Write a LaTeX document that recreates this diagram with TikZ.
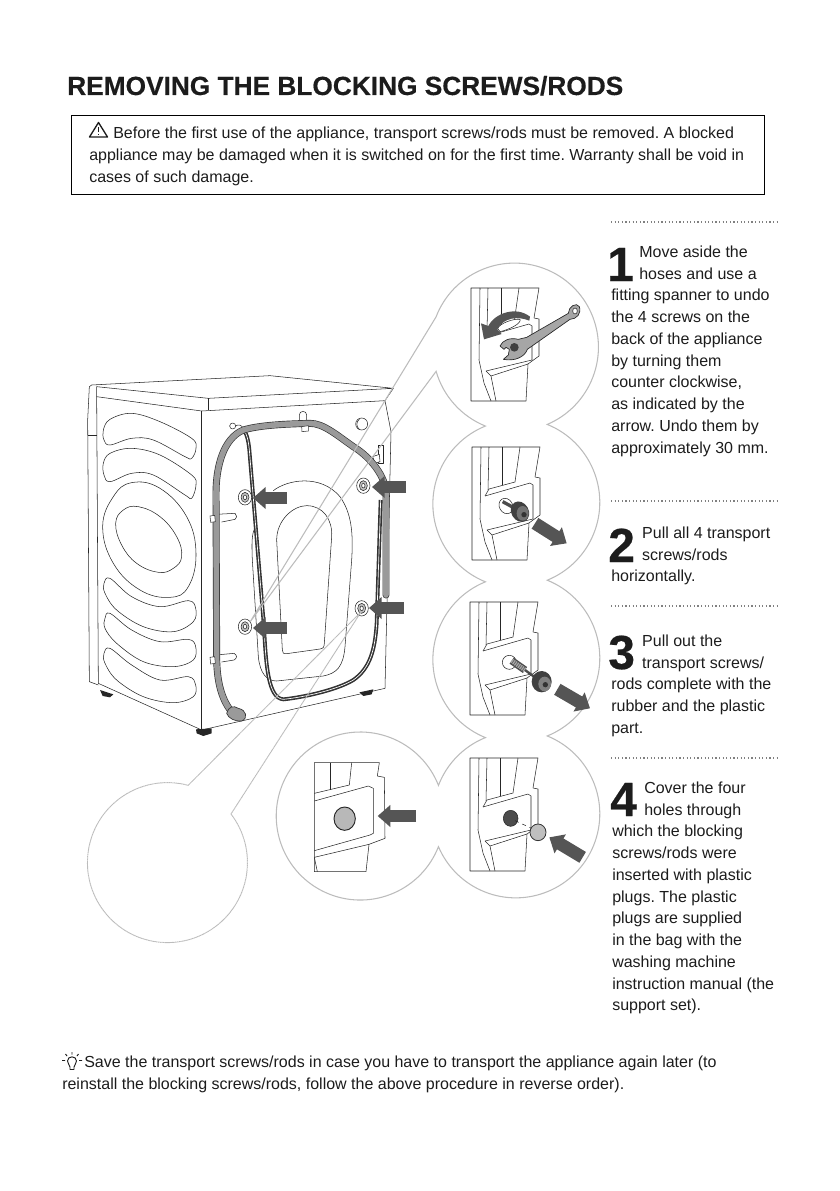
\documentclass[tikz,border=0pt]{standalone}
\usepackage{fontspec}
\setmainfont[BoldFeatures={FakeBold=0.4}]{Liberation Sans}
\usetikzlibrary{arrows.meta}
\definecolor{lensgray}{HTML}{BCBCBC}
\definecolor{arrowgray}{HTML}{555555}
\definecolor{hosegray}{HTML}{9A9A9A}
\definecolor{inkdark}{HTML}{1C1C1C}
\tikzset{
  txt/.style={anchor=north west,inner sep=0pt,align=left,text=inkdark,font=\fontsize{12}{16.3}\selectfont\frenchspacing},
  bignum/.style={anchor=base west,inner sep=0pt,text=inkdark,font=\fontsize{36}{36}\selectfont\bfseries},
  rule/.style={line width=0.9pt,dash pattern=on 0.9pt off 1.8pt,gray},
  ink/.style={draw=black!85,line width=0.4pt,line join=round},
  blockarrow/.style={arrowgray,line width=9.5pt,-{Triangle[length=9.5pt,width=16pt]}},
  lens/.style={draw=lensgray,line width=0.8pt,line join=miter},
  hose/.style={line width=5.2pt,draw=black!80,line cap=round,postaction={draw=hosegray,line width=4.2pt}}
}
\newcommand{\ind}[1]{\hspace*{#1pt}}
\begin{document}
\begin{tikzpicture}[x=0.75pt,y=-0.75pt]
  \useasboundingbox (0,0) rectangle (839,1191);

  % Heading and warning box
  \node[anchor=base west,inner sep=0pt,text=inkdark,font=\fontsize{19.7}{22}\selectfont\bfseries] (title) at (67,95) {REMOVING THE BLOCKING SCREWS/RODS};
  \draw[black,line width=0.7pt] (71,115) rectangle (764,194);
  \draw[line width=1pt,line join=round,inkdark] (98.5,122.5) -- (107.5,137) -- (89.5,137) -- cycle;
  \draw[line width=1.1pt,inkdark] (98.5,127.5) -- (98.5,132.5) (98.5,133.8) -- (98.5,135.3);
  \node[txt,font=\fontsize{12}{16.5}\selectfont\frenchspacing] (warning) at (89,123) {\strut\ind{18}Before the first use of the appliance, transport screws/rods must be removed. A blocked\\appliance may be damaged when it is switched on for the first time. Warranty shall be void in\\cases of such damage.};

  % Dotted rules over the steps
  \foreach \ry in {222,501,606,758}
    \draw[rule] (611,\ry) -- (778,\ry);

  % Step texts
  \node[bignum] (numone) at (607,281) {1};
  \node[txt] (stepone) at (611,242) {\strut\ind{21}Move aside the\\\ind{21}hoses and use a\\fitting spanner to undo\\the 4 screws on the\\back of the appliance\\by turning them\\counter clockwise,\\as indicated by the\\arrow. Undo them by\\approximately 30 mm.};
  \node[bignum] (numtwo) at (608,562) {2};
  \node[txt] (steptwo) at (611,523) {\strut\ind{23.2}Pull all 4 transport\\\ind{23.2}screws/rods\\horizontally.};
  \node[bignum] (numthree) at (608,669) {3};
  \node[txt] (stepthree) at (611,631) {\strut\ind{23.2}Pull out the\\\ind{23.2}transport screws/\\rods complete with the\\rubber and the plastic\\part.};
  \node[bignum] (numfour) at (610,816) {4};
  \node[txt] (stepfour) at (612,778) {\strut\ind{24}Cover the four\\\ind{24}holes through\\which the blocking\\screws/rods were\\inserted with plastic\\plugs. The plastic\\plugs are supplied\\in the bag with the\\washing machine\\instruction manual (the\\support set).};

  % Footer with the bulb
  \draw[inkdark,line width=0.7pt,line join=round] (70,1069.5) -- (70,1067) .. controls (70,1065) and (67.5,1064) .. (67.5,1061) .. controls (67.5,1055.5) and (76.5,1055.5) .. (76.5,1061) .. controls (76.5,1064) and (74,1065) .. (74,1067) -- (74,1069.5) -- cycle;
  \draw[inkdark,line width=0.7pt] (72,1052) -- (72,1054.5) (65.5,1054) -- (67,1056) (78.5,1054) -- (77,1056) (62,1060.5) -- (65,1060.5) (82,1060.5) -- (79,1060.5);
  \node[txt] (savenote) at (62,1052) {\strut\ind{16.5}Save the transport screws/rods in case you have to transport the appliance again later (to\\reinstall the blocking screws/rods, follow the above procedure in reverse order).};

  % Washing machine, traced in a finer grid
  \begin{scope}[shift={(60,360)},x=0.25pt,y=-0.25pt]
    % feet
    \fill[black!85] (120,990) -- (160,1003) -- (150,1012) -- (128,1008) -- cycle;
    \fill[black!85] (408,1108) -- (455,1105) -- (455,1120) -- (430,1128) -- (410,1120) -- cycle;
    \fill[black!85] (898,997) -- (940,988) -- (935,1003) -- (910,1008) -- cycle;
    % body
    \draw[ink] (88,80) -- (95,75) -- (630,47) -- (1000,85) -- (975,122) -- (425,153) -- (110,110) -- (110,80) -- (445,115) -- (1000,85);
    \draw[ink] (445,115) -- (445,150);
    \draw[ink] (88,80) -- (83,180) -- (88,965) -- (115,975);
    \draw[ink] (84,225) -- (110,225);
    \draw[ink] (110,110) -- (115,970) -- (425,1110) -- (975,985) -- (993,215) -- (975,122);
    \draw[ink] (425,153) -- (425,1110);
    % side panel
    \draw[ink] plot[smooth cycle,tension=0.6] coordinates {(130,210) (150,178) (215,160) (300,185) (395,235) (408,265) (395,295) (375,290) (280,240) (215,235) (150,255) (132,240)};
    \draw[ink] plot[smooth cycle,tension=0.6] coordinates {(130,310) (150,280) (215,265) (300,285) (395,345) (408,375) (395,415) (375,405) (280,345) (215,340) (150,365) (132,345)};
    \draw[ink] plot[smooth cycle,tension=0.7] coordinates {(128,500) (160,410) (215,368) (300,385) (380,470) (408,580) (385,680) (330,712) (240,690) (160,610)};
    \draw[ink] plot[smooth cycle,tension=0.7] coordinates {(167,490) (190,450) (235,440) (300,470) (350,530) (365,590) (340,625) (295,637) (230,610) (185,555)};
    \draw[ink] plot[smooth cycle,tension=0.6] coordinates {(132,670) (150,655) (215,710) (300,740) (385,722) (407,745) (400,785) (340,815) (250,800) (170,750) (135,700)};
    \draw[ink] plot[smooth cycle,tension=0.6] coordinates {(135,775) (150,760) (215,810) (300,845) (385,838) (407,860) (400,900) (340,920) (250,905) (170,850) (135,805)};
    \draw[ink] plot[smooth cycle,tension=0.6] coordinates {(132,880) (150,865) (215,915) (300,960) (385,950) (407,975) (400,1010) (340,1028) (250,1010) (170,960) (135,910)};
    % drum and door on the back
    \draw[ink] (640,392) .. controls (680,360) and (780,340) .. (840,410) .. controls (875,460) and (880,520) .. (875,600) -- (855,860) .. controls (850,920) and (830,940) .. (790,948) -- (650,963) .. controls (620,963) and (600,940) .. (595,890) -- (577,600) .. controls (575,550) and (575,520) .. (585,505);
    \draw[ink] (650,540) .. controls (650,480) and (700,437) .. (740,437) .. controls (790,437) and (818,480) .. (815,530) -- (793,850) .. controls (792,862) and (790,865) .. (780,867) -- (680,881) .. controls (670,882) and (667,878) .. (667,870) -- cycle;
    % cable
    \draw[black!80,line width=1.2pt,double=white,double distance=0.5pt] (545,205) .. controls (560,215) and (565,240) .. (568,270) -- (612,800) .. controls (618,920) and (625,1015) .. (670,1018) .. controls (730,1012) and (830,990) .. (880,960) .. controls (930,925) and (945,870) .. (950,790) -- (962,420);
    \draw[ink] (518,198) circle[radius=9];
    \draw[ink] (527,198) .. controls (535,192) and (545,195) .. (550,205);
    % top fittings
    \draw[ink] (718,180) -- (718,165) arc[start angle=180,end angle=360,radius=11] -- (740,180);
    \draw[ink] (905,192) circle[radius=18];
    \draw[ink] (898,178) .. controls (888,185) and (888,200) .. (898,208);
    \draw[ink] (955,310) -- (955,255) -- (970,255) -- (970,310) -- cycle;
    \draw[ink,fill=white] (938,290) -- (958,283) -- (960,305) -- (945,310) -- cycle;
    % side clips
    \draw[ink] (468,463) -- (525,460) .. controls (532,465) and (532,475) .. (525,478) -- (485,486) (468,885) -- (522,880) .. controls (532,885) and (532,895) .. (522,900) -- (485,906);
    % hose
    \draw[hose] (978,705) -- (978,400) .. controls (978,350) and (930,290) .. (880,260) .. controls (830,225) and (790,190) .. (750,190) .. controls (680,192) and (600,195) .. (550,210) .. controls (490,235) and (468,320) .. (468,400) -- (470,900) .. controls (472,980) and (490,1030) .. (525,1068);
    \draw[draw=black!80,fill=hosegray,line width=0.5pt] (500,1060) .. controls (505,1040) and (520,1035) .. (535,1045) .. controls (560,1050) and (565,1075) .. (545,1083) .. controls (525,1085) and (505,1075) .. (500,1060) -- cycle;
    \fill[white,draw=black!80,line width=0.4pt] (450,468) -- (464,466) -- (466,485) -- (452,487) -- cycle (450,892) -- (464,890) -- (466,910) -- (452,912) -- cycle (725,200) -- (745,197) -- (745,213) -- (726,215) -- cycle;
    % screws
    \foreach \sx/\sy in {555/412,555/800,910/377,905/745} {
      \draw[ink,fill=white] (\sx,\sy) ellipse (20 and 23);
      \draw[ink,fill=black!25] (\sx,\sy) ellipse (12 and 15);
      \draw[ink,fill=white] (\sx,\sy) ellipse (5 and 7);
    }
  \end{scope}

  % Lines out of the washing machine and the round lenses
  \draw[lens] (250,622) -- (436,317)
    arc[start angle=201,end angle=427,radius=84]
    arc[start angle=-68,end angle=68,radius=84]
    arc[start angle=-68,end angle=68,radius=84]
    arc[start angle=-68,end angle=157,radius=84]
    arc[start angle=21.4,end angle=338.6,radius=84]
    arc[start angle=201,end angle=248,radius=84]
    arc[start angle=112,end angle=248,radius=84]
    arc[start angle=112,end angle=248,radius=84]
    arc[start angle=112,end angle=164,radius=84] -- cycle;
  \draw[lens,line width=0.7pt,dash pattern=on 1pt off 0.3pt] (361,612) -- (231,814)
    arc[start angle=-37.4,end angle=285,radius=80] -- cycle;

  % Inset panels, same drawing four times
  \foreach \px/\py in {471/288,472/447,470/602,470/758} {
    \begin{scope}[shift={(\px,\py)}]
      \draw[ink] (68,0) -- (0,0) -- (0,113) -- (55,113) -- (57,76) -- (68,68) -- (68,31) -- (63,30) -- cycle;
      \draw[ink] (9,0) -- (8,72) -- (13,95) -- (20,113);
      \draw[ink] (17,0) -- (16,43);
      \draw[ink] (30,0) -- (30,38);
      \draw[ink] (48,0) -- (43,35);
      \draw[ink] (13,49) -- (17,42) -- (43,35);
      \draw[ink] (13,49) -- (58,36) -- (61,38) -- (61,72) -- (15,83) -- (20,88) -- (57,76);
      \draw[ink] (20,88) -- (25,113);
    \end{scope}
  }

  % Spanner inset
  \begin{scope}[shift={(420,260)},x=0.25pt,y=-0.25pt]
    \draw[ink,fill=white] (233,205) .. controls (240,190) and (280,175) .. (300,178) .. controls (305,190) and (270,208) .. (240,215) -- cycle;
    \fill[arrowgray] (328,182) .. controls (295,168) and (250,172) .. (232,208) -- (245,222) -- (192,238) -- (183,190) -- (205,198) .. controls (225,158) and (290,138) .. (330,170) -- cycle;
    \draw[draw=black!85,fill=black!35,line width=0.5pt,line join=round] (240,258) .. controls (248,240) and (270,232) .. (295,238) -- (320,232) -- (445,160) .. controls (445,140) and (470,125) .. (478,140) .. controls (485,160) and (470,178) .. (450,178) -- (322,268) .. controls (315,290) and (285,305) .. (250,298) -- (265,285) -- (268,268) -- (258,262) -- (252,268) -- cycle;
    \fill[black!75] (283,262) circle[radius=13];
    \draw[ink,fill=white] (465,153) ellipse (7 and 9);
    % Pulled screw, second lens
    \draw[ink,fill=white,rotate around={30:(258,738)}] (258,738) ellipse (20 and 24);
    \draw[black!70,line width=2.5pt] (248,725) -- (285,745);
    \fill[black!75,rotate around={30:(300,755)}] (300,755) ellipse (26 and 32);
    \fill[black!55] (308,760) ellipse (18 and 22);
    \fill[black!80] (312,764) circle[radius=8];
    \draw[blockarrow] (345,790) -- (440,850);
  \end{scope}

  % Third and fourth lens, plug lens
  \begin{scope}[shift={(270,590)},x=0.25pt,y=-0.25pt]
    \draw[ink,fill=white] (718,217) circle[radius=21];
    \draw[black!70,line width=5.5pt] (725,212) -- (765,240);
    \draw[black!35,line width=3.5pt,dash pattern=on 1pt off 0.6pt] (725,212) -- (765,240);
    \draw[black!70,line width=1.8pt] (765,240) -- (795,262);
    \fill[black!75] (815,275) ellipse (30 and 32);
    \fill[black!50] (824,282) ellipse (19 and 22);
    \fill[black!80] (826,284) circle[radius=8];
    \draw[blockarrow] (862,298) -- (960,355);
    % plug into hole
    \draw[ink,fill=black!70] (722,685) ellipse (22 and 24);
    \draw[ink,dashed] (735,692) -- (785,715);
    \draw[draw=black!80,fill=black!25,line width=0.6pt] (804,727) ellipse (24 and 25);
    \draw[blockarrow] (938,802) -- (838,742);
    % big plate with the plug
    \draw[ink] (328,518) -- (133,518) -- (133,845) -- (288,845) -- (297,763) -- (345,745) -- (343,562) -- (322,558) -- cycle;
    \draw[ink] (180,518) -- (180,600);
    \draw[ink] (245,518) -- (238,585);
    \draw[ink] (133,610) -- (238,585);
    \draw[ink] (133,633) -- (295,588) -- (310,595) -- (310,730) -- (300,735) -- (133,782);
    \draw[ink] (133,802) -- (297,763);
    \draw[ink] (133,802) -- (142,845);
    \draw[draw=black!85,fill=black!28,line width=0.7pt] (224,686) ellipse (32 and 35);
    \draw[blockarrow] (438,678) -- (323,678);
  \end{scope}

  % Arrows on the washing machine
  \draw[blockarrow] (287,498) -- (253,498);
  \draw[blockarrow] (406,487) -- (372,487);
  \draw[blockarrow] (287,628) -- (253,628);
  \draw[blockarrow] (404,608) -- (369,608);
\end{tikzpicture}
\end{document}
